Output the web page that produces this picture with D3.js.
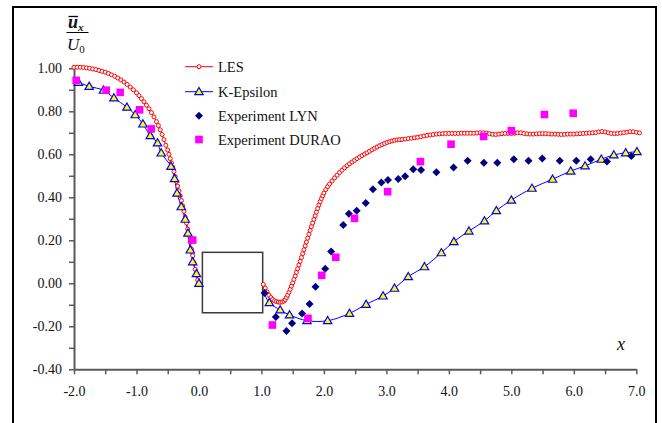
<!DOCTYPE html>
<html>
<head>
<meta charset="utf-8">
<script src="https://cdn.jsdelivr.net/npm/d3@7"></script>
<style>
  html, body { margin: 0; padding: 0; background: #fff; }
  svg { display: block; }
</style>
</head>
<body>
<svg id="chart" width="662" height="423"></svg>
<script>
// ---------------- DATA ----------------
const seriesNames = ["LES", "K-Epsilon", "Experiment LYN", "Experiment DURAO"];

// LES (dense red circles) — upstream of the obstacle
const lesUpX = [-2.00,-1.95,-1.90,-1.85,-1.80,-1.75,-1.70,-1.65,-1.60,-1.55,-1.50,-1.45,-1.40,-1.35,-1.30,-1.25,-1.20,-1.15,-1.10,-1.05,-1.00,-0.96,-0.92,-0.88,-0.84,-0.80,-0.76,-0.72,-0.68,-0.65,-0.62,-0.59,-0.56,-0.53,-0.50,-0.48,-0.46,-0.44,-0.42,-0.40,-0.38,-0.36,-0.34,-0.32,-0.30,-0.28,-0.26,-0.24,-0.22,-0.20,-0.18,-0.16,-0.14,-0.12,-0.10,-0.08,-0.06,-0.04,-0.02,0.00];
const lesUpY = [1.005,1.005,1.005,1.004,1.002,1.000,0.997,0.994,0.990,0.986,0.982,0.976,0.970,0.963,0.955,0.946,0.936,0.925,0.913,0.900,0.886,0.873,0.859,0.844,0.828,0.812,0.794,0.774,0.752,0.734,0.714,0.692,0.668,0.642,0.620,0.600,0.580,0.560,0.540,0.520,0.497,0.474,0.452,0.430,0.408,0.385,0.360,0.335,0.308,0.280,0.252,0.222,0.192,0.160,0.128,0.096,0.065,0.038,0.015,0.000];
// LES — downstream of the obstacle
const lesDownX = [1.03,1.06,1.09,1.12,1.15,1.18,1.21,1.24,1.27,1.30,1.33,1.36,1.38,1.40,1.42,1.44,1.46,1.48,1.50,1.52,1.54,1.56,1.58,1.60,1.62,1.64,1.66,1.68,1.70,1.72,1.74,1.76,1.78,1.80,1.82,1.84,1.86,1.88,1.90,1.92,1.94,1.96,1.98,2.00,2.03,2.06,2.09,2.13,2.17,2.21,2.25,2.29,2.33,2.37,2.41,2.45,2.49,2.53,2.57,2.61,2.65,2.69,2.73,2.77,2.81,2.85,2.89,2.93,2.97,3.01,3.05,3.09,3.13,3.17,3.21,3.25,
  3.30,3.35,3.40,3.45,3.50,3.55,3.60,3.65,3.70,3.75,3.80,3.85,3.90,3.95,4.00,4.05,4.10,4.15,4.20,4.25,4.30,4.35,4.40,4.45,4.50,4.55,4.60,4.65,4.70,4.75,4.80,4.85,4.90,4.95,5.00,5.05,5.10,5.15,5.20,5.25,5.30,5.35,5.40,5.45,5.50,5.55,5.60,5.65,5.70,5.75,5.80,5.85,5.90,5.95,6.00,6.05,6.10,6.15,6.20,6.25,6.30,6.35,6.40,6.45,6.50,6.55,6.60,6.65,6.70,6.75,6.80,6.85,6.90,6.95,7.00,7.05];
const lesDownY = [-0.005,-0.022,-0.040,-0.055,-0.066,-0.075,-0.081,-0.085,-0.087,-0.088,-0.087,-0.083,-0.076,-0.066,-0.055,-0.042,-0.028,-0.013,0.002,0.018,0.034,0.051,0.068,0.085,0.102,0.120,0.138,0.156,0.174,0.192,0.210,0.228,0.246,0.264,0.280,0.297,0.314,0.331,0.348,0.364,0.380,0.394,0.407,0.420,0.436,0.450,0.462,0.476,0.490,0.503,0.515,0.526,0.537,0.547,0.556,0.564,0.572,0.580,0.587,0.594,0.601,0.607,0.614,0.621,0.628,0.634,0.640,0.645,0.650,0.655,0.659,0.662,0.665,0.667,0.668,0.669,
  0.671,0.673,0.675,0.677,0.679,0.682,0.685,0.688,0.690,0.692,0.694,0.695,0.696,0.697,0.697,0.697,0.697,0.697,0.698,0.698,0.698,0.698,0.698,0.699,0.700,0.700,0.699,0.696,0.693,0.692,0.694,0.696,0.697,0.697,0.697,0.698,0.700,0.700,0.697,0.695,0.694,0.694,0.695,0.696,0.696,0.696,0.695,0.694,0.694,0.693,0.692,0.693,0.694,0.694,0.694,0.695,0.696,0.697,0.698,0.699,0.700,0.701,0.704,0.706,0.704,0.700,0.697,0.696,0.697,0.699,0.701,0.703,0.705,0.705,0.702,0.700];

// K-Epsilon (blue line, yellow triangles)
const keUpX = [-1.93,-1.757,-1.528,-1.361,-1.153,-1.02,-0.897,-0.78,-0.663,-0.604,-0.448,-0.39,-0.352,-0.283,-0.219,-0.176,-0.139,-0.10,-0.04,0.0];
const keUpY = [0.935,0.916,0.898,0.862,0.819,0.784,0.741,0.687,0.653,0.606,0.544,0.487,0.419,0.356,0.298,0.233,0.155,0.100,0.045,0.0];
const keDownX = [1.126,1.30,1.45,1.73,2.06,2.41,2.675,2.947,3.13,3.35,3.61,3.88,4.08,4.32,4.57,4.76,5.00,5.33,5.66,5.95,6.18,6.44,6.64,6.83,7.01];
const keDownY = [-0.090,-0.124,-0.147,-0.174,-0.174,-0.140,-0.098,-0.059,-0.023,0.031,0.077,0.142,0.194,0.243,0.290,0.338,0.387,0.442,0.484,0.522,0.546,0.577,0.597,0.607,0.612];
// start of the K-Epsilon line at the obstacle's back face (no marker)
const keWakeStartX = 1.03, keWakeStartY = -0.04;

// Experiment LYN (navy diamonds)
const lynX = [1.05,1.23,1.40,1.49,1.65,1.77,1.865,2.02,2.115,2.31,2.40,2.525,2.67,2.785,2.92,3.025,3.19,3.30,3.43,3.555,3.80,4.075,4.30,4.56,4.775,5.04,5.275,5.495,5.775,6.04,6.27,6.53,6.92];
const lynY = [-0.045,-0.157,-0.222,-0.186,-0.140,-0.096,-0.016,0.068,0.148,0.271,0.324,0.337,0.373,0.437,0.469,0.480,0.485,0.498,0.530,0.527,0.517,0.539,0.570,0.561,0.561,0.577,0.570,0.581,0.570,0.570,0.577,0.566,0.592];

// Experiment DURAO (magenta squares)
const duraoX = [-1.965,-1.485,-1.26,-0.95,-0.764,-0.10,1.175,1.745,1.965,2.19,2.49,3.02,3.545,4.035,4.555,5.00,5.53,5.99];
const duraoY = [0.944,0.898,0.888,0.807,0.718,0.201,-0.194,-0.163,0.037,0.121,0.302,0.426,0.566,0.647,0.683,0.710,0.785,0.791];

// Obstacle (square cylinder) outline in data units
const obstacleX = [0.055, 1.02];
const obstacleY = [-0.137, 0.144];

// Axis ticks
const xTicks = d3.range(-4, 15).map(i => i / 2);          // -2.0 … 7.0 every 0.5
const yTicks = d3.range(-4, 11).map(i => i / 10);         // -0.4 … 1.0 every 0.1

// ---------------- CHART ----------------
const SERIF = "'Liberation Serif', 'Times New Roman', Times, 'DejaVu Serif', serif";
const svg = d3.select("#chart");
const x = d3.scaleLinear().domain([-2, 7]).range([74, 636.3]);
const y = d3.scaleLinear().domain([-0.4, 1.0]).range([369.3, 68.3]);

const zip = (xs, ys) => xs.map((v, i) => ({ x: v, y: ys[i] }));
const lesUp = zip(lesUpX, lesUpY), lesDown = zip(lesDownX, lesDownY);
const keUp = zip(keUpX, keUpY), keDown = zip(keDownX, keDownY);
const lyn = zip(lynX, lynY), durao = zip(duraoX, duraoY);

// outer frame
svg.append("rect").attr("x", 13).attr("y", 7).attr("width", 643).attr("height", 430)
  .attr("fill", "none").attr("stroke", "#000").attr("stroke-width", 2);

// axes
const axisColor = "#5a5a5a";
const yAxis = d3.axisLeft(y).tickValues(yTicks).tickSize(5).tickSizeOuter(0).tickPadding(7)
  .tickFormat(d => (Math.round(d * 10) % 2 === 0 ? (Math.abs(d) < 1e-9 ? 0 : d).toFixed(2) : ""));
const xAxis = d3.axisBottom(x).tickValues(xTicks).tickSize(5).tickSizeOuter(0).tickPadding(12)
  .tickFormat(d => (Math.abs(d - Math.round(d)) < 1e-9 ? d.toFixed(1) : ""));

const gy = svg.append("g").attr("transform", `translate(${x(-2)},0)`).call(yAxis);
const gx = svg.append("g").attr("transform", `translate(0,${y(-0.4)})`).call(xAxis);
[gx, gy].forEach(g => {
  g.attr("font-family", null).attr("font-size", null);
  g.select(".domain").attr("stroke", axisColor).attr("stroke-width", 2);
  g.selectAll(".tick line").attr("stroke", axisColor).attr("stroke-width", 1.5);
  g.selectAll(".tick text").attr("font-size", 14).attr("fill", "#111");
});

// lines
const line = d3.line().x(d => x(d.x)).y(d => y(d.y));
const smooth = d3.line().x(d => x(d.x)).y(d => y(d.y)).curve(d3.curveCatmullRom.alpha(0.5));

svg.append("path").datum(lesUp).attr("d", line).attr("fill", "none").attr("stroke", "#ff0000").attr("stroke-width", 1);
svg.append("path").datum(lesDown).attr("d", line).attr("fill", "none").attr("stroke", "#ff0000").attr("stroke-width", 1);
svg.append("path").datum(keUp).attr("d", smooth).attr("fill", "none").attr("stroke", "#0000ff").attr("stroke-width", 1);
svg.append("path").datum([{ x: keWakeStartX, y: keWakeStartY }].concat(keDown)).attr("d", smooth)
  .attr("fill", "none").attr("stroke", "#0000ff").attr("stroke-width", 1);

// obstacle
svg.append("rect")
  .attr("x", x(obstacleX[0])).attr("y", y(obstacleY[1]))
  .attr("width", x(obstacleX[1]) - x(obstacleX[0])).attr("height", y(obstacleY[0]) - y(obstacleY[1]))
  .attr("fill", "#fff").attr("stroke", "#3a3a3a").attr("stroke-width", 1.5);

// markers
const triPath = "M0,-4.2L4.2,3L-4.2,3Z";
const diaPath = "M0,-4L4,0L0,4L-4,0Z";
const lesR = 2;

svg.append("g").selectAll("circle").data(lesUp.concat(lesDown)).join("circle")
  .attr("cx", d => x(d.x)).attr("cy", d => y(d.y)).attr("r", lesR)
  .attr("fill", "#fff").attr("stroke", "#ff0000").attr("stroke-width", 1);

svg.append("g").selectAll("path").data(keUp.concat(keDown)).join("path")
  .attr("transform", d => `translate(${x(d.x)},${y(d.y)})`).attr("d", triPath)
  .attr("fill", "#ffff00").attr("stroke", "#0000ff").attr("stroke-width", 1.2);

svg.append("g").selectAll("path").data(lyn).join("path")
  .attr("transform", d => `translate(${x(d.x)},${y(d.y)})`).attr("d", diaPath)
  .attr("fill", "#000080");

svg.append("g").selectAll("rect").data(durao).join("rect")
  .attr("x", d => x(d.x) - 3.8).attr("y", d => y(d.y) - 3.8).attr("width", 7.6).attr("height", 7.6)
  .attr("fill", "#ff00ff");

// legend
const legY = [66.7, 91.7, 115.7, 139.5];
const leg = svg.append("g");
leg.append("line").attr("x1", 185).attr("x2", 213).attr("y1", legY[0]).attr("y2", legY[0]).attr("stroke", "#ff0000");
leg.append("circle").attr("cx", 199).attr("cy", legY[0]).attr("r", lesR).attr("fill", "#fff").attr("stroke", "#ff0000").attr("stroke-width", 1);
leg.append("line").attr("x1", 185).attr("x2", 213).attr("y1", legY[1]).attr("y2", legY[1]).attr("stroke", "#0000ff");
leg.append("path").attr("transform", `translate(199,${legY[1]})`).attr("d", triPath).attr("fill", "#ffff00").attr("stroke", "#0000ff").attr("stroke-width", 1.2);
leg.append("path").attr("transform", `translate(199,${legY[2]})`).attr("d", diaPath).attr("fill", "#000080");
leg.append("rect").attr("x", 199 - 3.8).attr("y", legY[3] - 3.8).attr("width", 7.6).attr("height", 7.6).attr("fill", "#ff00ff");
leg.selectAll("text").data(seriesNames).join("text")
  .attr("x", 218).attr("y", (d, i) => legY[i]).attr("dy", "0.35em")
  .attr("font-size", 14.5).text(d => d);

// axis titles
const yt = svg.append("g");
yt.append("text").attr("x", 68).attr("y", 28).attr("font-size", 18).attr("font-style", "italic").attr("font-weight", "bold")
  .text("u").append("tspan").attr("dy", 3).attr("font-size", 11).text("x");
yt.append("line").attr("x1", 68.5).attr("x2", 78).attr("y1", 16.5).attr("y2", 16.5).attr("stroke", "#000").attr("stroke-width", 1.3);
yt.append("line").attr("x1", 66.5).attr("x2", 88.5).attr("y1", 32.5).attr("y2", 32.5).attr("stroke", "#000").attr("stroke-width", 1);
yt.append("text").attr("x", 67).attr("y", 50).attr("font-size", 17).attr("font-style", "italic")
  .text("U").append("tspan").attr("dy", 3).attr("font-size", 11).attr("font-style", "normal").text("0");

svg.append("text").attr("x", 617).attr("y", 350).attr("font-size", 18).attr("font-style", "italic").text("x");

// serif font everywhere
svg.selectAll("text").style("font-family", SERIF).style("fill", "#111");
</script>
</body>
</html>
